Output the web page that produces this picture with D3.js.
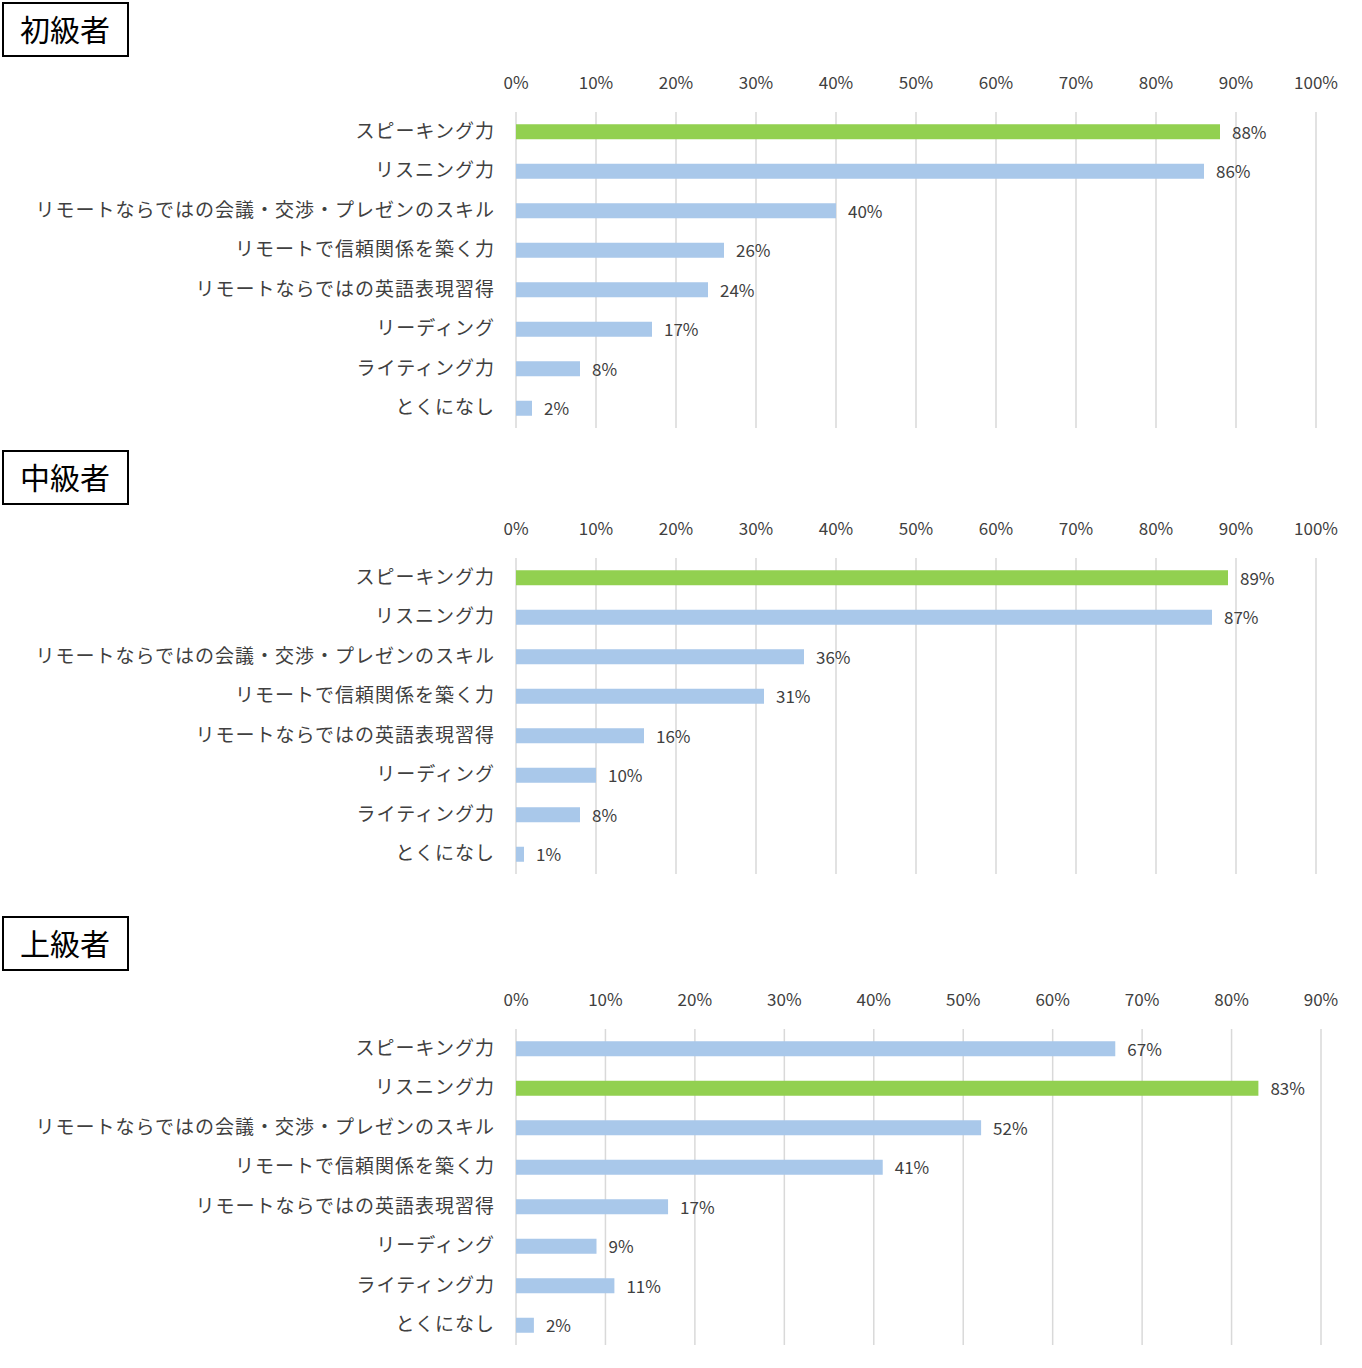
<!DOCTYPE html><html><head><meta charset="utf-8"><script src="https://cdn.jsdelivr.net/npm/d3@7"></script>
<style>body{margin:0;background:#fff}text{font-family:"Noto Sans CJK JP",sans-serif}</style></head><body><svg id="c" width="1362" height="1368"></svg>
<script>
const categories=["スピーキング力","リスニング力","リモートならではの会議・交渉・プレゼンのスキル","リモートで信頼関係を築く力","リモートならではの英語表現習得","リーディング","ライティング力","とくになし"];
const titles=["初級者","中級者","上級者"];
const beginner=[88,86,40,26,24,17,8,2];
const intermediate=[89,87,36,31,16,10,8,1];
const advanced=[67,83,52,41,17,9,11,2];
const highlight=[0,0,1];
const axisMax=[100,100,90];
const series=[beginner,intermediate,advanced];
const layout=[{box:3,tick:83,g0:112,g1:428},{box:451,tick:529,g0:558,g1:874},{box:917,tick:1000,g0:1029,g1:1345}];
const svg=d3.select("#c");
series.forEach((vals,p)=>{
 const L=layout[p];const g=svg.append("g");
 g.append("rect").attr("x",3).attr("y",L.box).attr("width",125).attr("height",53).attr("fill","#fff").attr("stroke","#000").attr("stroke-width",2);
 g.append("text").attr("x",65).attr("y",L.box+38).attr("text-anchor","middle").attr("font-size",30).text(titles[p]);
 const x=d3.scaleLinear().domain([0,axisMax[p]]).range([516,p==2?1321:1316]);
 const y=d3.scaleBand().domain(categories).range([L.g0,L.g1]);
 const ticks=d3.range(0,axisMax[p]+1,10);
 g.selectAll(".gl").data(ticks).join("line").attr("x1",d=>x(d)).attr("x2",d=>x(d)).attr("y1",L.g0).attr("y2",L.g1).attr("stroke","#d9d9d9").attr("stroke-width",1.5);
 g.selectAll(".tl").data(ticks).join("text").attr("x",d=>x(d)).attr("y",L.tick+6).attr("text-anchor","middle").attr("font-size",17).attr("fill","#404040").text(d=>d+"%");
 g.selectAll(".bar").data(vals).join("rect").attr("x",x(0)).attr("y",(d,i)=>y(categories[i])+y.bandwidth()/2-7.5).attr("height",15).attr("width",d=>x(d)-x(0)).attr("fill",(d,i)=>i===highlight[p]?"#92d050":"#a9c8ea");
 g.selectAll(".vl").data(vals).join("text").attr("x",d=>x(d)+12).attr("y",(d,i)=>y(categories[i])+y.bandwidth()/2+7).attr("font-size",17).attr("fill","#404040").text(d=>d+"%");
 g.selectAll(".cl").data(categories).join("text").attr("x",495).attr("y",d=>y(d)+y.bandwidth()/2+6).attr("text-anchor","end").attr("font-size",19).attr("fill","#404040").attr("letter-spacing",1).text(d=>d);
});
</script></body></html>
